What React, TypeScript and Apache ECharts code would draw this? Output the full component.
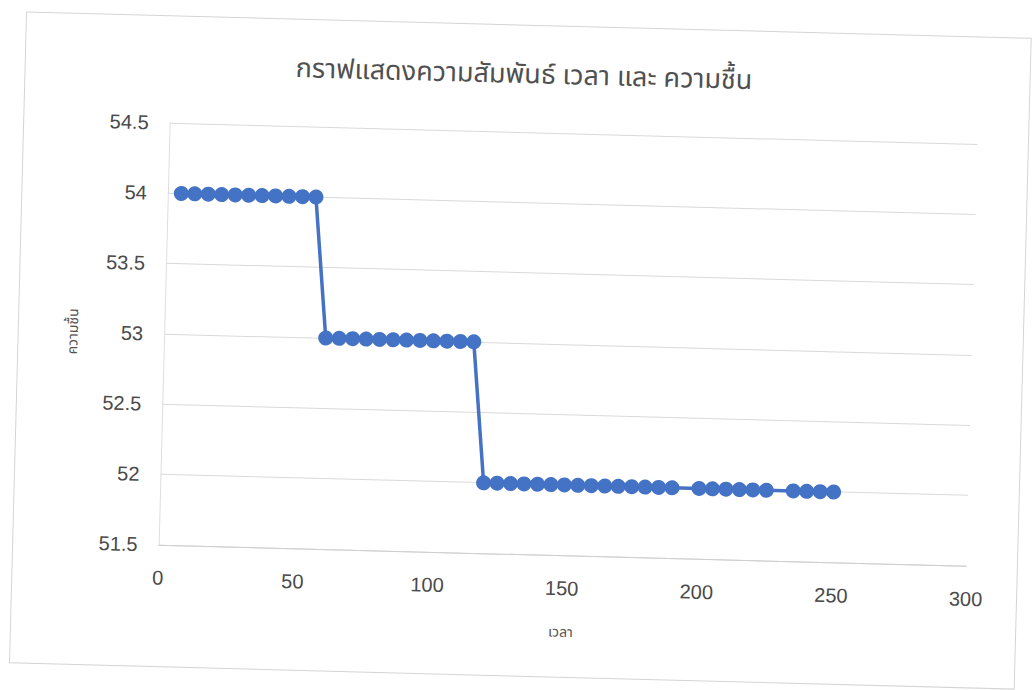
import React, { useEffect, useRef } from "react";
import * as echarts from "echarts";

// Humidity readings over time
const times: number[] = [
  5, 10, 15, 20, 25, 30, 35, 40, 45, 50, 55,
  60, 65, 70, 75, 80, 85, 90, 95, 100, 105, 110, 115,
  120, 125, 130, 135, 140, 145, 150, 155, 160, 165, 170, 175, 180, 185, 190,
  200, 205, 210, 215, 220, 225,
  235, 240, 245, 250,
];
const humidity: number[] = [
  54, 54, 54, 54, 54, 54, 54, 54, 54, 54, 54,
  53, 53, 53, 53, 53, 53, 53, 53, 53, 53, 53, 53,
  52, 52, 52, 52, 52, 52, 52, 52, 52, 52, 52, 52, 52, 52, 52,
  52, 52, 52, 52, 52, 52,
  52, 52, 52, 52,
];

const titleText = "กราฟแสดงความสัมพันธ์ เวลา และ ความชื้น";
const xName = "เวลา";
const yName = "ความชื้น";

const FONT = "'Liberation Sans', 'Noto Sans Thai', 'Noto Sans', sans-serif";
const THAI_FONT = "'Noto Sans Thai', 'Noto Sans', 'DejaVu Sans', sans-serif";

export default function App() {
  const ref = useRef<HTMLDivElement>(null);

  useEffect(() => {
    if (!ref.current) return;
    const chart = echarts.init(ref.current, undefined, { renderer: "svg" });
    const points = times.map((t, i) => [t, humidity[i]]);
    chart.setOption({
      animation: false,
      backgroundColor: "transparent",
      title: {
        text: titleText,
        left: "center",
        top: 56,
        textStyle: {
          fontFamily: THAI_FONT,
          fontSize: 27,
          fontWeight: "normal",
          color: "#505050",
        },
      },
      graphic: [
        {
          type: "rect",
          shape: { x: 18, y: 25, width: 1005, height: 651 },
          style: { fill: "none", stroke: "#d4d4d4", lineWidth: 1 },
          silent: true,
          z: -1,
        },
      ],
      grid: { left: 164, top: 132, right: 62, bottom: 136 },
      xAxis: {
        type: "value",
        min: 0,
        max: 300,
        interval: 50,
        name: xName,
        nameLocation: "middle",
        nameGap: 70,
        nameTextStyle: { fontFamily: THAI_FONT, fontSize: 14, color: "#505050" },
        axisLine: { show: true, lineStyle: { color: "#cfcfcf", width: 1 } },
        axisTick: { show: false },
        splitLine: { show: false },
        axisLabel: { margin: 23, fontFamily: FONT, fontSize: 20, color: "#4a4a4a" },
      },
      yAxis: {
        type: "value",
        min: 51.5,
        max: 54.5,
        interval: 0.5,
        name: yName,
        nameLocation: "middle",
        nameRotate: 90,
        nameGap: 84,
        nameTextStyle: { fontFamily: THAI_FONT, fontSize: 14, color: "#505050" },
        axisLine: { show: true, lineStyle: { color: "#dedede", width: 1 } },
        axisTick: { show: false },
        splitLine: { show: true, lineStyle: { color: "#d9d9d9", width: 1 } },
        axisLabel: { margin: 21, fontFamily: FONT, fontSize: 20, color: "#4a4a4a" },
      },
      series: [
        {
          type: "line",
          data: points,
          symbol: "circle",
          symbolSize: 15,
          lineStyle: { color: "#4472C4", width: 3.5 },
          itemStyle: { color: "#4472C4" },
        },
      ],
    });
    return () => chart.dispose();
  }, []);

  return (
    <div
      style={{
        position: "fixed",
        left: 0,
        top: 0,
        width: 1034,
        height: 690,
        overflow: "hidden",
        background: "#ffffff",
      }}
    >
      <div
        ref={ref}
        style={{
          width: 1034,
          height: 690,
          transform: "rotate(1.5deg)",
          transformOrigin: "517px 345px",
        }}
      />
    </div>
  );
}
